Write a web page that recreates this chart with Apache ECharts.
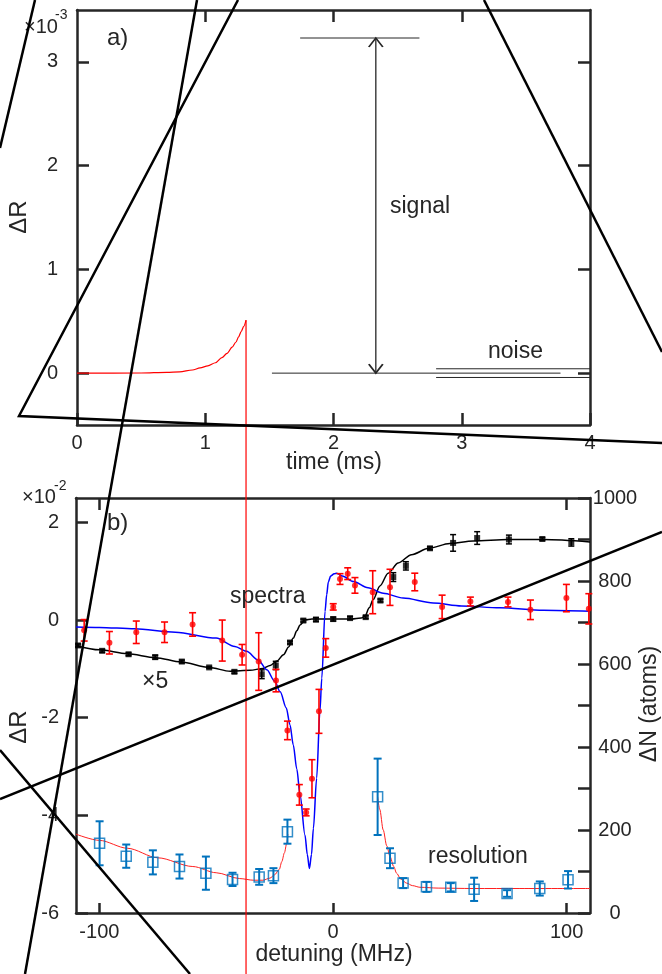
<!DOCTYPE html>
<html><head><meta charset="utf-8">
<script src="https://cdn.jsdelivr.net/npm/echarts@6/dist/echarts.min.js"></script>
<style>html,body{margin:0;padding:0;background:#fff}#c{width:662px;height:974px}</style>
</head><body><div id="c"></div>
<script>
// ---------- panel a) ----------
const aRiseT = [0, 0.5, 0.7, 0.8, 0.9, 0.96, 1.02, 1.08, 1.13, 1.17, 1.21, 1.24, 1.26, 1.28, 1.3, 1.318];
const aRiseR = [0, 0.001, 0.007, 0.013, 0.03, 0.05, 0.07, 0.1, 0.15, 0.19, 0.25, 0.3, 0.35, 0.4, 0.45, 0.51];
const aDropT = [1.318];
const aDropTop = [0.51];
const signalTopT = [1.74, 2.67];   const signalTopR = [3.23, 3.23];
const zeroLineT = [1.52, 3.77];    const zeroLineR = [0, 0];
const noiseHiT = [2.8, 4.0];       const noiseHiR = [0.042, 0.042];
const noiseLoT = [2.8, 4.0];       const noiseLoR = [-0.042, -0.042];
const arrowT = [2.33, 2.33];       const arrowR = [3.23, 0];
const aTimeTicks = [0, 1, 2, 3, 4];
const aTopTicks = [1, 2, 3];
const aRTicks = [0, 1, 2, 3];

// ---------- panel b) ----------
const redX = [-106.5,-95.7,-84.2,-72.1,-60.1,-47.4,-38.9,-31.8,-24.4,-19.5,-14.4,-11.5,-9.0,-6.0,-3.1,0.1,3.0,6.3,9.4,17.0,24.4,35.0,46.7,58.8,74.9,84.5,99.9,109.5];
const redY = [-0.21,-0.465,-0.25,-0.25,-0.09,-0.42,-0.71,-0.85,-1.24,-2.26,-3.58,-3.94,-3.25,-1.87,-0.57,0.27,0.84,0.95,0.71,0.57,0.67,0.78,0.27,0.38,0.37,0.21,0.45,0.23];
const redE = [0.22,0.23,0.23,0.21,0.24,0.42,0.21,0.59,0.23,0.19,0.21,0.07,0.39,0.45,0.19,0.065,0.11,0.12,0.16,0.44,0.37,0.18,0.24,0.09,0.10,0.20,0.28,0.31];

const blueFitX = [-110,-100,-85,-67.5,-50,-42,-37,-32,-28.3,-25,-22.6,-20,-18.4,-17,-15.5,-14.1,-12,-11,-10.1,-9.2,-8.4,-7,-5.6,-4.8,-3.4,-2.7,-2,-1,0.5,1.6,4,8.7,15,21.5,30,42.9,55,71.4,90,110];
const blueFitY = [-0.14,-0.15,-0.18,-0.25,-0.37,-0.54,-0.64,-0.82,-1.02,-1.25,-1.47,-1.8,-2.15,-2.56,-3.05,-3.58,-4.4,-4.8,-5.09,-4.8,-4.27,-3.24,-1.87,-1.19,0.18,0.52,0.78,0.9,0.95,0.96,0.9,0.79,0.66,0.55,0.45,0.35,0.29,0.25,0.2,0.18];

const blackX = [-109.1,-98.8,-87.5,-76.1,-64.7,-53.0,-42.2,-30.5,-24.5,-18.4,-12.7,-7.3,0.1,7.3,14.0,20.3,25.8,31.2,41.5,51.4,61.7,75.3,89.6,102];
const blackY = [-0.52,-0.63,-0.70,-0.76,-0.85,-0.97,-1.06,-1.11,-0.93,-0.46,-0.01,0.01,0.02,0.04,0.06,0.40,0.88,1.11,1.47,1.58,1.68,1.65,1.66,1.59];
const blackE = [0.03,0.03,0.03,0.04,0.03,0.02,0.03,0.09,0.085,0.03,0.03,0.04,0.04,0.03,0.03,0.03,0.09,0.085,0.03,0.17,0.13,0.09,0.03,0.075];

const blackFitX = [-110,-100,-88,-76,-65,-53,-44,-35.5,-30,-26.9,-24,-21.2,-19,-17,-15.5,-14.1,-12,-9,0,8,12,13.7,15.5,17.2,20.1,23.6,27.9,33.6,41,50,60,75,90,110];
const blackFitY = [-0.52,-0.61,-0.69,-0.77,-0.86,-0.97,-1.05,-1.03,-0.99,-0.93,-0.84,-0.71,-0.55,-0.37,-0.22,-0.1,0.0,0.02,0.02,0.02,0.04,0.08,0.25,0.42,0.7,0.96,1.17,1.34,1.47,1.57,1.62,1.65,1.65,1.6];

const resX = [-99.9,-88.5,-77.1,-65.7,-54.4,-43.0,-31.6,-25.5,-19.5,19.1,24.4,30.0,40.0,50.4,60.4,74.5,88.5,100.6];
const resN = [168,137,122,112,96,81,87,90,196,280,132,72,63,62,57,47,59,80];
const resE = [53,28,29,29,40,16,19,18,29,92,24,12,12,10,28,8,17,21];

const resFitLX = [-110,-100,-88,-75,-60,-50,-40,-34,-30,-27,-25,-23,-21.9,-20.8,-19.8,-19.3];
const resFitLN = [190,175,156,133,112,97,83,79,79,84,92,105,124,145,168,190];
const resFitRX = [19.1,20,21.5,23,24.4,26,27.2,29,31.5,34,37.2,45,60,80,110];
const resFitRN = [280,250,200,162,136,112,96,82,72,66,62,60,59,59,59];

const bDetTicks = [-100, 0, 100];
const bRTicks = [-6, -4, -2, 0, 2];
const bNTicks = [0,100,200,300,400,500,600,700,800,900,1000];
const bNLabels = [0, 200, 400, 600, 800, 1000];

// ---------- helpers ----------
const TXT = '#262626';
const FONT = '"Liberation Sans", Arial, Helvetica, sans-serif';
const zip = (a, b) => a.map((v, i) => [v, b[i]]);
const tickSty = {color: TXT, width: 2.5};

function ax(grid, pos, min, max, ticks, labels, len, margin, align) {
  const o = {type: 'value', gridIndex: grid, position: pos, min, max,
    axisLine: {show: true, onZero: false, lineStyle: {color: TXT, width: 2.5}},
    splitLine: {show: false},
    axisTick: {show: true, inside: true, length: len, customValues: ticks, lineStyle: tickSty},
    axisLabel: labels ? {show: true, customValues: labels, margin, fontSize: 20, color: TXT,
      fontFamily: FONT, formatter: v => String(v)} : {show: false}};
  if (labels && align) o.axisLabel.align = align;
  return o;
}
function lineS(xi, yi, data, color, width, z, extra) {
  return Object.assign({type: 'line', xAxisIndex: xi, yAxisIndex: yi, data, showSymbol: false,
    symbol: 'none', lineStyle: {color, width}, z, animation: false, silent: true}, extra || {});
}
function errBars(xs, ys, es, color, capHalf, lw, xi, yi, z) {
  return {type: 'custom', xAxisIndex: xi, yAxisIndex: yi, z, animation: false, silent: true,
    data: xs.map((x, i) => [x, ys[i] - es[i], ys[i] + es[i]]),
    encode: {x: 0, y: [1, 2]},
    renderItem(params, api) {
      const lo = api.coord([api.value(0), api.value(1)]);
      const hi = api.coord([api.value(0), api.value(2)]);
      const st = {stroke: color, lineWidth: lw};
      return {type: 'group', children: [
        {type: 'line', shape: {x1: lo[0], y1: lo[1], x2: hi[0], y2: hi[1]}, style: st},
        {type: 'line', shape: {x1: lo[0] - capHalf, y1: lo[1], x2: lo[0] + capHalf, y2: lo[1]}, style: st},
        {type: 'line', shape: {x1: hi[0] - capHalf, y1: hi[1], x2: hi[0] + capHalf, y2: hi[1]}, style: st}
      ]};
    }};
}
function txt(text, x, y, size) {
  return {type: 'text', x, y, z: 50, silent: true,
    style: {text, fill: TXT, font: size + 'px ' + FONT, textAlign: 'left', textVerticalAlign: 'middle'}};
}
function ctxt(text, x, y, size, rot) {
  return {type: 'text', x, y, rotation: rot || 0, z: 50, silent: true,
    style: {text, fill: TXT, font: size + 'px ' + FONT, textAlign: 'center', textVerticalAlign: 'middle'}};
}
function pl(points) {
  return {type: 'polyline', z: 100, silent: true, shape: {points},
    style: {stroke: '#000', lineWidth: 2.5, fill: null}};
}

const chart = echarts.init(document.getElementById('c'), null, {renderer: 'canvas'});
const option = {
  animation: false,
  backgroundColor: '#fff',
  grid: [
    {left: 77, top: 10, width: 513, height: 415},
    {left: 76, top: 498, width: 514, height: 415}
  ],
  xAxis: [
    ax(0, 'bottom', 0, 4, aTimeTicks, aTimeTicks, 12, 8),
    ax(0, 'top', 0, 4, aTopTicks, null, 12),
    ax(1, 'bottom', -110, 110, bDetTicks, bDetTicks, 10, 9),
    ax(1, 'top', -110, 110, bDetTicks, null, 12)
  ],
  yAxis: [
    ax(0, 'left', -0.5, 3.5, aRTicks, aRTicks, 12, 19),
    ax(0, 'right', -0.5, 3.5, aRTicks, null, 12),
    ax(1, 'left', -6, 2.5, bRTicks, bRTicks, 12, 17),
    ax(1, 'right', 0, 1000, bNTicks, bNLabels, 12, 25, 'center')
  ],
  series: [
    // panel a
    lineS(0, 0, zip(signalTopT, signalTopR), TXT, 1, 3),
    lineS(0, 0, zip(zeroLineT, zeroLineR), TXT, 1, 3),
    lineS(0, 0, zip(noiseHiT, noiseHiR), TXT, 1, 3),
    lineS(0, 0, zip(noiseLoT, noiseLoR), TXT, 1, 3),
    lineS(0, 0, [
      {value: [arrowT[0], arrowR[0]], symbol: 'path://M0,10L5,0L10,10', symbolOffset: [0, '50%']},
      {value: [arrowT[1], arrowR[1]], symbol: 'path://M0,0L5,10L10,0', symbolOffset: [0, '-50%']}
    ], TXT, 1.3, 3, {showSymbol: true, symbolSize: [14, 9],
      itemStyle: {color: 'rgba(0,0,0,0)', borderColor: TXT, borderWidth: 1.5}}),
    lineS(0, 0, zip(aRiseT, aRiseR), '#ff0000', 1.2, 20, {smooth: 0.3, smoothMonotone: 'x'}),
    // the curve's drop continues straight down past the bottom of the figure
    {type: 'custom', xAxisIndex: 0, yAxisIndex: 0, z: 20, silent: true, clip: false, animation: false,
      data: aDropT.map((t, i) => [t, aDropTop[i]]),
      encode: {x: 0, y: 1},
      renderItem(params, api) {
        const a = api.coord([api.value(0), api.value(1)]);
        return {type: 'line', shape: {x1: a[0], y1: a[1], x2: a[0], y2: api.getHeight() + 5},
          style: {stroke: '#ff0000', lineWidth: 1.2}};
      }},
    // panel b
    lineS(2, 2, zip(blackFitX, blackFitY), '#000', 1.5, 4, {smooth: 0.3, smoothMonotone: 'x'}),
    lineS(2, 2, zip(blueFitX, blueFitY), '#0000ff', 1.5, 5, {smooth: 0.3, smoothMonotone: 'x'}),
    lineS(2, 3, zip(resFitLX, resFitLN), '#ff2020', 1, 4, {smooth: 0.3, smoothMonotone: 'x'}),
    lineS(2, 3, zip(resFitRX, resFitRN), '#ff2020', 1, 4, {smooth: 0.3, smoothMonotone: 'x'}),
    errBars(blackX, blackY, blackE, '#000', 3, 1.5, 2, 2, 6),
    {type: 'scatter', xAxisIndex: 2, yAxisIndex: 2, z: 7, data: zip(blackX, blackY), symbol: 'rect', symbolSize: 6,
      itemStyle: {color: '#000'}, silent: true},
    errBars(redX, redY, redE, '#ff0000', 3.5, 1.6, 2, 2, 8),
    {type: 'scatter', xAxisIndex: 2, yAxisIndex: 2, z: 9, data: zip(redX, redY), symbol: 'circle', symbolSize: 6,
      itemStyle: {color: '#ff0000'}, silent: true},
    errBars(resX, resN, resE, '#0072BD', 4, 2, 2, 3, 8),
    {type: 'scatter', xAxisIndex: 2, yAxisIndex: 3, z: 9, data: zip(resX, resN), symbol: 'rect', symbolSize: 10,
      itemStyle: {color: 'rgba(255,255,255,0)', borderColor: '#0072BD', borderWidth: 1.5}, silent: true}
  ],
  graphic: [
    txt('×10', 24, 27, 20), txt('-3', 55, 15, 14),
    txt('×10', 22, 497, 20), txt('-2', 54, 486, 14),
    ctxt('ΔR', 19, 217, 24, Math.PI / 2),
    ctxt('ΔR', 19, 727, 24, Math.PI / 2),
    ctxt('time (ms)', 334, 463, 23),
    ctxt('detuning (MHz)', 334, 955, 23),
    ctxt('ΔN (atoms)', 650, 704, 23, Math.PI / 2),
    txt('a)', 107, 38, 24), txt('b)', 107, 523, 24),
    txt('signal', 390, 207, 23), txt('noise', 488, 352, 23),
    txt('spectra', 230, 597, 23), txt('×5', 142, 682, 23),
    txt('resolution', 428, 857, 23),
    pl([[35, 0], [0, 148]]),
    pl([[238, 0], [19, 416], [662, 443]]),
    pl([[197, 0], [25, 974]]),
    pl([[484, 0], [662, 352]]),
    pl([[0, 799], [662, 532]]),
    pl([[0, 750], [190, 974]])
  ]
};
chart.setOption(option);
</script>
</body></html>
